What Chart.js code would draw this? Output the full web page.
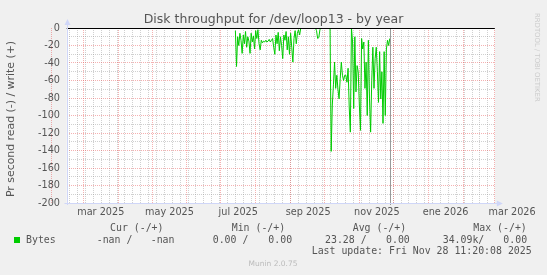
<!DOCTYPE html>
<html><head><meta charset="utf-8">
<script src="https://cdn.jsdelivr.net/npm/chart.js@4/dist/chart.umd.min.js"></script>
<style>html,body{margin:0;padding:0;background:#F0F0F0;}canvas{display:block;}</style>
</head><body>
<canvas id="c" width="547" height="275"></canvas>
<script>
// ---- data (days counted from 2025-01-01 = 0) ----
const readFirstDay = 194;
const readValues = [
  -3,-44,-10,-20,-6,-14,-29,-8,-18,-4,
  -22,-10,-15,-29,-6,-16,-9,-24,-3,-12,
  -2,-18,-25,-14,-17,-15,-16,-14,-16,-15,
  -13,-16,-14,-12,-22,-30,-8,-18,-5,-26,
  -10,-20,-35,-8,-14,-4,-25,-10,-30,-6,
  -22,-39,-12,-3,-18,-6,-2,-8,0,
  0,0,0,0,0,0,0,0,0,0,0,0,0,-3,-12,-11,-2,0,0,0,0,0,0,0,0,0,
  -141,
  -88,-65,-39,-69,-54,-70,-81,-58,-39,-54,
  -60,-54,-54,-62,-46,-90,-119,0,-16,-92,
  -10,-73,-43,-50,-88,-117,-12,-24,-16,-69,
  -39,-100,-14,-81,-119,-60,-22,-69,-35,-22,
  -50,-85,-27,-81,-50,-109,-27,-100,-24,-14,
  -20,-12
];
const nowDay = 331;
const monthStartDays = [31,59,90,120,151,181,212,243,273,304,334,365,396,424];
const labelDays = [59,120,181,243,304,365,424];
const labelTexts = ['mar 2025','may 2025','jul 2025','sep 2025','nov 2025','ene 2026','mar 2026'];
const firstMonday = 5;
const xMinDay = 44.3, xMaxDay = 424.2;
const yMin = -200, yMax = 0, yMajorStep = 20, yMinorStep = 10;
const titleText = 'Disk throughput for /dev/loop13 - by year';
const yTitleText = 'Pr second read (-) / write (+)';
const legendHeaders = ['Cur (-/+)','Min (-/+)','Avg (-/+)','Max (-/+)'];
const seriesName = 'Bytes';
const legendStats = ['-nan /','-nan','0.00 /','0.00','23.28 /','0.00','34.09k/','0.00'];
const lastUpdate = 'Last update: Fri Nov 28 11:20:08 2025';
const sideText = 'RRDTOOL / TOBI OETIKER';
const footer = 'Munin 2.0.75';

// ---- layout/style ----
const FONT = 'DejaVu Sans';
const MONO = '"DejaVu Sans Mono"';
const TXT = '#555555';
const GREEN = '#00CC00';
const AXIS = '#CFD6F8';
const MGRID = 'rgba(230,70,70,0.42)';
const GRID = 'rgba(150,150,150,0.45)';
const DASH = [1, 1];

const weekDays = [];
for (let d = firstMonday; d <= xMaxDay; d += 7) if (d >= xMinDay) weekDays.push(d);

const points = readValues.map((v, i) => ({x: readFirstDay + i, y: v}));

Chart.defaults.font.family = FONT;
Chart.defaults.animation = false;

const decor = {
  id: 'decor',
  beforeDraw(chart) {
    const {ctx, chartArea: a} = chart;
    ctx.save();
    ctx.fillStyle = '#F0F0F0';
    ctx.fillRect(0, 0, chart.width, chart.height);
    ctx.fillStyle = '#FFFFFF';
    ctx.fillRect(a.left, a.top, a.right - a.left, a.bottom - a.top);
    ctx.restore();
  },
  afterDatasetsDraw(chart) {
    const {ctx, chartArea: a, scales} = chart;
    const y0 = Math.round(scales.y.getPixelForValue(0)) + 0.5;
    const xn = Math.round(scales.x.getPixelForValue(nowDay)) + 0.5;
    ctx.save();
    ctx.setLineDash([]);
    ctx.strokeStyle = '#999999'; ctx.lineWidth = 1;
    ctx.beginPath(); ctx.moveTo(xn, a.top); ctx.lineTo(xn, a.bottom + 2); ctx.stroke();
    ctx.strokeStyle = '#000000';
    ctx.beginPath(); ctx.moveTo(a.left, y0); ctx.lineTo(a.right, y0); ctx.stroke();
    const L = Math.round(a.left) + 0.5, B = Math.round(a.bottom) + 0.5;
    ctx.strokeStyle = AXIS; ctx.fillStyle = AXIS;
    ctx.beginPath(); ctx.moveTo(L, a.bottom + 2); ctx.lineTo(L, a.top - 4); ctx.stroke();
    ctx.beginPath(); ctx.moveTo(L - 3, B); ctx.lineTo(a.right + 3, B); ctx.stroke();
    ctx.beginPath(); ctx.moveTo(L - 3, a.top - 3); ctx.lineTo(L + 3, a.top - 3); ctx.lineTo(L, a.top - 9); ctx.closePath(); ctx.fill();
    ctx.beginPath(); ctx.moveTo(a.right + 2, B - 3); ctx.lineTo(a.right + 2, B + 3); ctx.lineTo(a.right + 8, B); ctx.closePath(); ctx.fill();
    ctx.restore();
  },
  afterDraw(chart) {
    const {ctx} = chart;
    ctx.save();
    ctx.fillStyle = TXT;
    ctx.font = '10.9px "' + FONT + '"';
    ctx.textAlign = 'center'; ctx.textBaseline = 'middle';
    ctx.translate(11, 119); ctx.rotate(-Math.PI / 2);
    ctx.fillText(yTitleText, 0, 0);
    ctx.restore();
    ctx.save();
    ctx.fillStyle = '#CCCCCC';
    ctx.font = '6.9px "' + FONT + '"';
    ctx.textAlign = 'left'; ctx.textBaseline = 'middle';
    ctx.translate(537, 13); ctx.rotate(Math.PI / 2);
    ctx.fillText(sideText, 0, 0);
    ctx.restore();
    ctx.save();
    ctx.fillStyle = TXT;
    ctx.font = '9.9px ' + MONO;
    ctx.textAlign = 'left'; ctx.textBaseline = 'middle';
    const hx = [110, 231.7, 352.7, 473.3];
    legendHeaders.forEach((t, i) => ctx.fillText(t, hx[i], 228));
    ctx.fillText(seriesName, 26, 240);
    const sx = [96.7, 150.7, 212.7, 268.3, 325, 386, 442.7, 503.3];
    legendStats.forEach((t, i) => ctx.fillText(t, sx[i], 240));
    ctx.fillText(lastUpdate, 311.7, 251.5);
    ctx.fillStyle = GREEN;
    ctx.fillRect(14, 237, 6, 6);
    ctx.fillStyle = '#BBBBBB';
    ctx.font = '7.5px "' + FONT + '"';
    ctx.textAlign = 'center';
    ctx.fillText(footer, 273, 264.5);
    ctx.restore();
  }
};

const noTicks = {display: false};
const hiddenBorder = {display: true, color: 'rgba(0,0,0,0)', dash: DASH};
new Chart(document.getElementById('c'), {
  type: 'line',
  data: {datasets: [{
    data: points, borderColor: GREEN, borderWidth: 1, pointRadius: 0, tension: 0, fill: false, spanGaps: false
  }]},
  options: {
    responsive: false, devicePixelRatio: 1, animation: false,
    layout: {padding: {left: 0, right: 0, top: 0, bottom: 52}},
    plugins: {
      legend: {display: false}, tooltip: {enabled: false},
      title: {display: true, text: titleText, color: TXT, font: {size: 12.5, weight: 'normal', family: FONT}, padding: {top: 12.5, bottom: 0.5}}
    },
    scales: {
      xMinor: {
        type: 'linear', position: 'bottom', min: xMinDay, max: xMaxDay,
        afterBuildTicks: s => { s.ticks = weekDays.map(v => ({value: v})); },
        afterFit: s => { s.height = 0; },
        ticks: noTicks, border: hiddenBorder,
        grid: {color: GRID, lineWidth: 1, drawTicks: false, borderDash: DASH}
      },
      x: {
        type: 'linear', position: 'bottom', min: xMinDay, max: xMaxDay,
        afterBuildTicks: s => { s.ticks = monthStartDays.map(v => ({value: v})); },
        afterFit: s => { s.height = 0; },
        ticks: noTicks, border: hiddenBorder,
        grid: {color: MGRID, lineWidth: 1, drawTicks: false, borderDash: DASH}
      },
      xLabels: {
        type: 'linear', position: 'bottom', min: xMinDay, max: xMaxDay,
        afterBuildTicks: s => { s.ticks = labelDays.map(v => ({value: v})); },
        afterFit: s => { s.height = 20; },
        ticks: {
          autoSkip: false, maxRotation: 0, minRotation: 0, labelOffset: 17.5, padding: 4,
          color: TXT, font: {size: 9.7},
          callback: v => labelTexts[labelDays.indexOf(v)]
        },
        border: {display: false},
        grid: {display: false, drawTicks: false}
      },
      yMinor: {
        type: 'linear', position: 'left', min: yMin, max: yMax,
        ticks: {display: false, stepSize: yMinorStep},
        afterFit: s => { s.width = 0; },
        border: hiddenBorder,
        grid: {drawTicks: false, borderDash: DASH, color: c => (c.tick && c.tick.value % yMajorStep === 0) ? 'rgba(0,0,0,0)' : GRID}
      },
      y: {
        type: 'linear', position: 'left', min: yMin, max: yMax,
        afterFit: s => { s.width = 66.7; },
        ticks: {stepSize: yMajorStep, color: TXT, font: {size: 9.7}, padding: 6.7},
        border: hiddenBorder,
        grid: {color: MGRID, drawTicks: false, borderDash: DASH}
      },
      yRight: {
        type: 'linear', position: 'right', min: yMin, max: yMax,
        afterFit: s => { s.width = 52.2; },
        ticks: {display: false},
        border: {display: false},
        grid: {display: false, drawTicks: false}
      }
    }
  },
  plugins: [decor]
});
</script>
</body></html>
